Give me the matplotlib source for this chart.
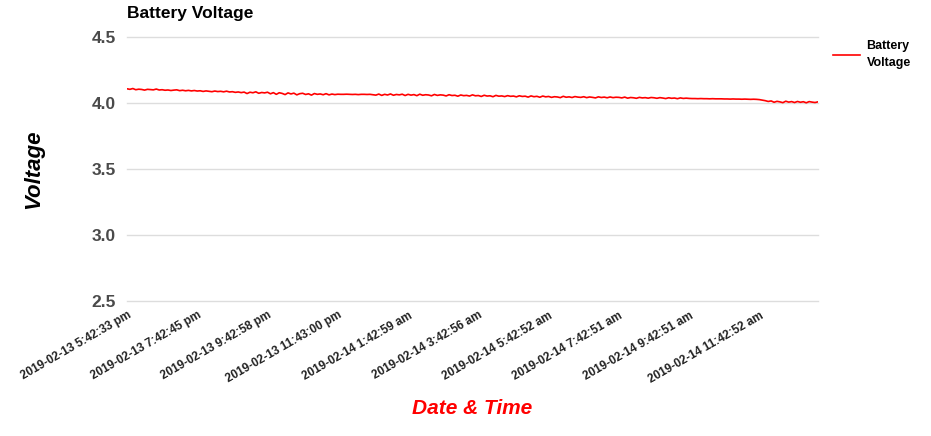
import numpy as np
from matplotlib import pyplot as plt

plt.rcParams['font.family'] = ['Liberation Sans', 'DejaVu Sans']

# readings every ~5 minutes, starting 2019-02-13 5:42:33 pm
voltage = [
    4.108, 4.104, 4.110, 4.101, 4.105, 4.103, 4.098, 4.104, 4.102, 4.100, 4.106, 4.099,
    4.101, 4.097, 4.099, 4.095, 4.098, 4.100, 4.094, 4.097, 4.093, 4.096, 4.092, 4.095,
    4.091, 4.093, 4.088, 4.092, 4.089, 4.086, 4.091, 4.087, 4.089, 4.085, 4.090, 4.084,
    4.086, 4.081, 4.084, 4.079, 4.083, 4.072, 4.082, 4.078, 4.085, 4.074, 4.080, 4.077,
    4.082, 4.070, 4.079, 4.066, 4.078, 4.073, 4.064, 4.077, 4.069, 4.075, 4.062, 4.071,
    4.074, 4.065, 4.070, 4.060, 4.072, 4.066, 4.069, 4.063, 4.071, 4.062, 4.068, 4.064,
    4.067, 4.066, 4.066, 4.067, 4.066, 4.065, 4.066, 4.064, 4.066, 4.066, 4.065, 4.066,
    4.063, 4.060, 4.068, 4.058, 4.066, 4.061, 4.069, 4.059, 4.065, 4.062, 4.067, 4.057,
    4.066, 4.060, 4.064, 4.056, 4.067, 4.059, 4.063, 4.061, 4.055, 4.065, 4.058, 4.062,
    4.060, 4.054, 4.063, 4.057, 4.059, 4.052, 4.061, 4.056, 4.058, 4.053, 4.062, 4.055,
    4.057, 4.050, 4.059, 4.053, 4.055, 4.048, 4.058, 4.052, 4.054, 4.049, 4.056, 4.051,
    4.053, 4.047, 4.055, 4.050, 4.052, 4.045, 4.054, 4.048, 4.051, 4.044, 4.053, 4.047,
    4.050, 4.043, 4.048, 4.046, 4.041, 4.051, 4.044, 4.047, 4.042, 4.049, 4.045, 4.043,
    4.048, 4.041, 4.046, 4.043, 4.039, 4.047, 4.042, 4.045, 4.040, 4.046, 4.041, 4.044,
    4.043, 4.039, 4.045, 4.037, 4.042, 4.040, 4.036, 4.043, 4.039, 4.041, 4.037, 4.042,
    4.040, 4.036, 4.041, 4.038, 4.034, 4.040, 4.036, 4.038, 4.033, 4.039, 4.035, 4.037,
    4.035, 4.034, 4.034, 4.033, 4.034, 4.033, 4.033, 4.032, 4.033, 4.032, 4.032, 4.032,
    4.031, 4.031, 4.030, 4.031, 4.030, 4.030, 4.029, 4.030, 4.029, 4.028, 4.029, 4.028,
    4.026, 4.022, 4.018, 4.012, 4.016, 4.006, 4.013, 4.009, 4.003, 4.014, 4.007, 4.011,
    4.004, 4.012, 4.006, 4.010, 4.002, 4.011, 4.007, 4.004, 4.009,
]

tick_labels = [
    '2019-02-13 5:42:33 pm', '2019-02-13 7:42:45 pm', '2019-02-13 9:42:58 pm',
    '2019-02-13 11:43:00 pm', '2019-02-14 1:42:59 am', '2019-02-14 3:42:56 am',
    '2019-02-14 5:42:52 am', '2019-02-14 7:42:51 am', '2019-02-14 9:42:51 am',
    '2019-02-14 11:42:52 am',
]
tick_every = 24

fig = plt.figure(figsize=(9.31, 4.36), dpi=100)
ax = fig.add_axes([0.1364, 0.3096, 0.7422, 0.6054])

x = np.arange(len(voltage))
ax.plot(x, voltage, color='#ff0000', lw=1.2, label='Battery\nVoltage')

ax.set_xlim(0, len(voltage) - 1)
ax.set_ylim(2.5, 4.5)
ax.set_yticks([2.5, 3.0, 3.5, 4.0, 4.5])
ax.set_yticklabels(['2.5', '3.0', '3.5', '4.0', '4.5'], fontsize=12.5,
                   fontweight='bold', color='#4a4a4a')
ax.set_xticks(np.arange(len(tick_labels)) * tick_every)
ax.set_xticklabels(tick_labels, rotation=30, ha='right', rotation_mode='anchor',
                   fontsize=8.5, fontweight='bold', color='#222222')
ax.tick_params(axis='both', length=0, pad=8)
ax.tick_params(axis='x', pad=6)

ax.grid(axis='y', color='#dddddd', lw=1)
for g in ax.get_ygridlines():
    g.set_clip_on(False)
for s in ax.spines.values():
    s.set_visible(False)

ax.set_title('Battery Voltage', loc='left', fontsize=12.5, fontweight='bold', pad=14)
ax.set_ylabel('Voltage', fontsize=16, fontweight='bold', style='italic', labelpad=34)
ax.set_xlabel('Date & Time', fontsize=15, fontweight='bold', style='italic',
              color='#ff0000', labelpad=10)

leg = ax.legend(loc='upper left', bbox_to_anchor=(1.005, 1.03), frameon=False,
                prop={'weight': 'bold', 'size': 9}, handlelength=2.2,
                handletextpad=0.5)
for t in leg.get_texts():
    t.set_multialignment('left')
    t.set_linespacing(1.5)

fig.savefig('out.png', dpi=100)
